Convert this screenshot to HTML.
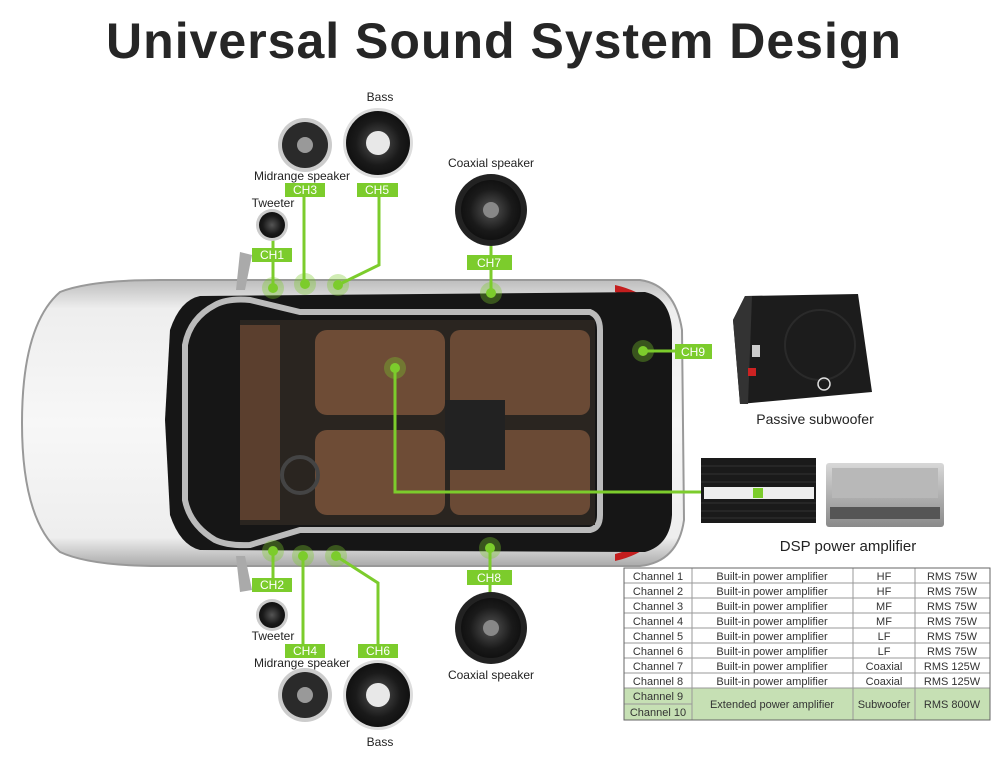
<!DOCTYPE html>
<html><head><meta charset="utf-8"><style>
html,body{margin:0;padding:0;background:#fff;}
svg{display:block;font-family:"Liberation Sans",sans-serif;}
</style></head><body>
<svg width="1000" height="758" viewBox="0 0 1000 758" xmlns="http://www.w3.org/2000/svg">
<defs>
<radialGradient id="spk" cx="50%" cy="50%" r="50%"><stop offset="0" stop-color="#555"/><stop offset="0.7" stop-color="#1a1a1a"/><stop offset="1" stop-color="#111"/></radialGradient>
<linearGradient id="body" x1="0" y1="0" x2="0" y2="1"><stop offset="0" stop-color="#bdbdbd"/><stop offset="0.1" stop-color="#eee"/><stop offset="0.5" stop-color="#f7f7f7"/><stop offset="0.9" stop-color="#eee"/><stop offset="1" stop-color="#aaa"/></linearGradient>
<linearGradient id="silver" x1="0" y1="0" x2="0" y2="1"><stop offset="0" stop-color="#d8d8d8"/><stop offset="1" stop-color="#8a8a8a"/></linearGradient>
</defs>
<rect width="1000" height="758" fill="#fff"/>
<text x="504" y="58" text-anchor="middle" font-size="50" font-weight="bold" fill="#262626" letter-spacing="1">Universal Sound System Design</text>

<!-- car -->
<path d="M60,292 Q90,280 160,280 L640,280 Q675,285 682,330 L684,520 Q678,562 640,566 L160,566 Q90,566 60,552 Q22,520 22,423 Q22,325 60,292 Z" fill="url(#body)" stroke="#999" stroke-width="2"/>
<path d="M615,285 Q660,295 672,335 L666,340 Q650,300 615,292Z" fill="#c41e1e"/>
<path d="M615,561 Q660,551 672,511 L666,506 Q650,546 615,554Z" fill="#c41e1e"/>
<path d="M240,252 L252,255 L245,290 L236,290Z" fill="#aaa"/>
<path d="M240,592 L252,590 L245,556 L236,556Z" fill="#aaa"/>
<path d="M200,296 Q180,300 170,330 L165,420 L170,515 Q180,545 200,550 L645,552 Q670,545 672,515 L672,330 Q670,298 645,292 Z" fill="#161616"/>
<path d="M215,305 Q228,298 250,300 L300,312 L590,312 Q600,316 600,330 L600,515 Q600,528 590,530 L300,530 L250,545 Q228,546 215,540 Q190,525 185,500 L185,345 Q190,318 215,305Z" fill="none" stroke="#bbb" stroke-width="6"/>
<rect x="240" y="320" width="355" height="205" fill="#2a2520"/>
<rect x="315" y="330" width="130" height="85" rx="12" fill="#6e4c36"/>
<rect x="315" y="430" width="130" height="85" rx="12" fill="#6e4c36"/>
<rect x="450" y="330" width="140" height="85" rx="10" fill="#6a4a35"/>
<rect x="450" y="430" width="140" height="85" rx="10" fill="#6a4a35"/>
<rect x="240" y="325" width="40" height="195" fill="#5b3f2e"/>
<rect x="445" y="400" width="60" height="70" fill="#222"/>
<circle cx="300" cy="475" r="18" fill="none" stroke="#444" stroke-width="4"/>

<!-- green connectors -->
<g stroke="#7ccc2c" stroke-width="3" fill="none">
<path d="M273,240 V288"/><path d="M304,196 V284"/><path d="M379,196 V265 L338,285"/><path d="M491,246 V293"/>
<path d="M273,551 V592"/><path d="M303,556 V644"/><path d="M336,556 L378,583 V644"/><path d="M490,548 V600"/>
<path d="M643,351 H680"/><path d="M395,368 V492 H702"/>
</g>
<g fill="#7ccc2c">
<g fill-opacity="0.35"><circle cx="273" cy="288" r="11"/><circle cx="305" cy="284" r="11"/><circle cx="338" cy="285" r="11"/><circle cx="491" cy="293" r="11"/><circle cx="273" cy="551" r="11"/><circle cx="303" cy="556" r="11"/><circle cx="336" cy="556" r="11"/><circle cx="490" cy="548" r="11"/><circle cx="643" cy="351" r="11"/><circle cx="395" cy="368" r="11"/></g>
<circle cx="273" cy="288" r="5"/><circle cx="305" cy="284" r="5"/><circle cx="338" cy="285" r="5"/><circle cx="491" cy="293" r="5"/><circle cx="273" cy="551" r="5"/><circle cx="303" cy="556" r="5"/><circle cx="336" cy="556" r="5"/><circle cx="490" cy="548" r="5"/><circle cx="643" cy="351" r="5"/><circle cx="395" cy="368" r="5"/>
<rect x="285" y="183" width="40" height="14"/><rect x="357" y="183" width="41" height="14"/><rect x="252" y="248" width="40" height="14"/><rect x="467" y="255" width="45" height="15"/>
<rect x="252" y="578" width="40" height="14"/><rect x="285" y="644" width="40" height="14"/><rect x="358" y="644" width="40" height="14"/><rect x="467" y="570" width="45" height="15"/>
<rect x="675" y="344" width="37" height="15"/>
</g>
<g fill="#fff" font-size="12" text-anchor="middle">
<text x="305" y="194">CH3</text><text x="377" y="194">CH5</text><text x="272" y="259">CH1</text><text x="489" y="267">CH7</text>
<text x="272" y="589">CH2</text><text x="305" y="655">CH4</text><text x="378" y="655">CH6</text><text x="489" y="582">CH8</text><text x="693" y="356">CH9</text>
</g>

<!-- speakers -->
<g>
<circle cx="378" cy="143" r="35" fill="#ddd"/><circle cx="378" cy="143" r="32" fill="url(#spk)"/><circle cx="378" cy="143" r="12" fill="#e8e8e8"/>
<circle cx="305" cy="145" r="27" fill="#ccc"/><circle cx="305" cy="145" r="23" fill="#2a2a2a"/><circle cx="305" cy="145" r="8" fill="#999"/>
<circle cx="272" cy="225" r="16" fill="#ccc"/><circle cx="272" cy="225" r="13" fill="url(#spk)"/>
<circle cx="491" cy="210" r="36" fill="#222"/><circle cx="491" cy="210" r="30" fill="url(#spk)"/><circle cx="491" cy="210" r="8" fill="#888"/>
<circle cx="378" cy="695" r="35" fill="#ddd"/><circle cx="378" cy="695" r="32" fill="url(#spk)"/><circle cx="378" cy="695" r="12" fill="#e8e8e8"/>
<circle cx="305" cy="695" r="27" fill="#ccc"/><circle cx="305" cy="695" r="23" fill="#2a2a2a"/><circle cx="305" cy="695" r="8" fill="#999"/>
<circle cx="272" cy="615" r="16" fill="#ccc"/><circle cx="272" cy="615" r="13" fill="url(#spk)"/>
<circle cx="491" cy="628" r="36" fill="#222"/><circle cx="491" cy="628" r="30" fill="url(#spk)"/><circle cx="491" cy="628" r="8" fill="#888"/>
</g>
<g fill="#222" font-size="12" text-anchor="middle">
<text x="380" y="101">Bass</text><text x="302" y="180">Midrange speaker</text><text x="273" y="207">Tweeter</text><text x="491" y="167">Coaxial speaker</text>
<text x="273" y="640">Tweeter</text><text x="302" y="667">Midrange speaker</text><text x="380" y="746">Bass</text><text x="491" y="679">Coaxial speaker</text>
</g>

<!-- subwoofer -->
<polygon points="745,296 858,294 872,392 740,404 733,320" fill="#1c1c1c"/>
<polygon points="733,320 745,296 752,296 748,404 740,404" fill="#333"/>
<circle cx="820" cy="345" r="35" fill="none" stroke="#2a2a2a" stroke-width="2"/>
<circle cx="824" cy="384" r="6" fill="none" stroke="#ddd" stroke-width="1.5"/>
<rect x="752" y="345" width="8" height="12" fill="#ccc"/><rect x="748" y="368" width="8" height="8" fill="#c22"/>
<text x="815" y="424" font-size="14" text-anchor="middle" fill="#222">Passive subwoofer</text>

<!-- amps -->
<rect x="701" y="458" width="115" height="65" fill="#1a1a1a"/>
<g stroke="#333" stroke-width="1"><path d="M701,466H816M701,474H816M701,482H816M701,503H816M701,511H816M701,518H816"/></g>
<rect x="704" y="487" width="110" height="12" fill="#eee"/><rect x="753" y="488" width="10" height="10" fill="#7ccc2c"/>
<rect x="826" y="463" width="118" height="64" rx="3" fill="url(#silver)"/>
<rect x="832" y="468" width="106" height="30" fill="#b8b8b8"/>
<rect x="830" y="507" width="110" height="12" fill="#555"/>
<text x="848" y="551" font-size="15" text-anchor="middle" fill="#222">DSP power amplifier</text>

<!-- table -->
<g font-size="11" fill="#333" text-anchor="middle">
<rect x="624" y="568" width="366" height="152" fill="#fff" stroke="#888"/>
<rect x="624" y="688" width="366" height="32" fill="#c6e0b4"/>
<g stroke="#999" stroke-width="1">
<path d="M624,583H990M624,598H990M624,613H990M624,628H990M624,643H990M624,658H990M624,673H990M624,688H990M624,704H692"/>
<path d="M692,568V720M853,568V720M915,568V720"/>
</g>
<rect x="624" y="568" width="366" height="152" fill="none" stroke="#666"/>
<g>
<text x="658" y="580">Channel 1</text><text x="772" y="580">Built-in power amplifier</text><text x="884" y="580">HF</text><text x="952" y="580">RMS 75W</text>
<text x="658" y="595">Channel 2</text><text x="772" y="595">Built-in power amplifier</text><text x="884" y="595">HF</text><text x="952" y="595">RMS 75W</text>
<text x="658" y="610">Channel 3</text><text x="772" y="610">Built-in power amplifier</text><text x="884" y="610">MF</text><text x="952" y="610">RMS 75W</text>
<text x="658" y="625">Channel 4</text><text x="772" y="625">Built-in power amplifier</text><text x="884" y="625">MF</text><text x="952" y="625">RMS 75W</text>
<text x="658" y="640">Channel 5</text><text x="772" y="640">Built-in power amplifier</text><text x="884" y="640">LF</text><text x="952" y="640">RMS 75W</text>
<text x="658" y="655">Channel 6</text><text x="772" y="655">Built-in power amplifier</text><text x="884" y="655">LF</text><text x="952" y="655">RMS 75W</text>
<text x="658" y="670">Channel 7</text><text x="772" y="670">Built-in power amplifier</text><text x="884" y="670">Coaxial</text><text x="952" y="670">RMS 125W</text>
<text x="658" y="685">Channel 8</text><text x="772" y="685">Built-in power amplifier</text><text x="884" y="685">Coaxial</text><text x="952" y="685">RMS 125W</text>
<text x="658" y="700">Channel 9</text><text x="658" y="716">Channel 10</text>
<text x="772" y="708">Extended power amplifier</text><text x="884" y="708">Subwoofer</text><text x="952" y="708">RMS 800W</text>
</g>
</g>
</svg>
</body></html>
